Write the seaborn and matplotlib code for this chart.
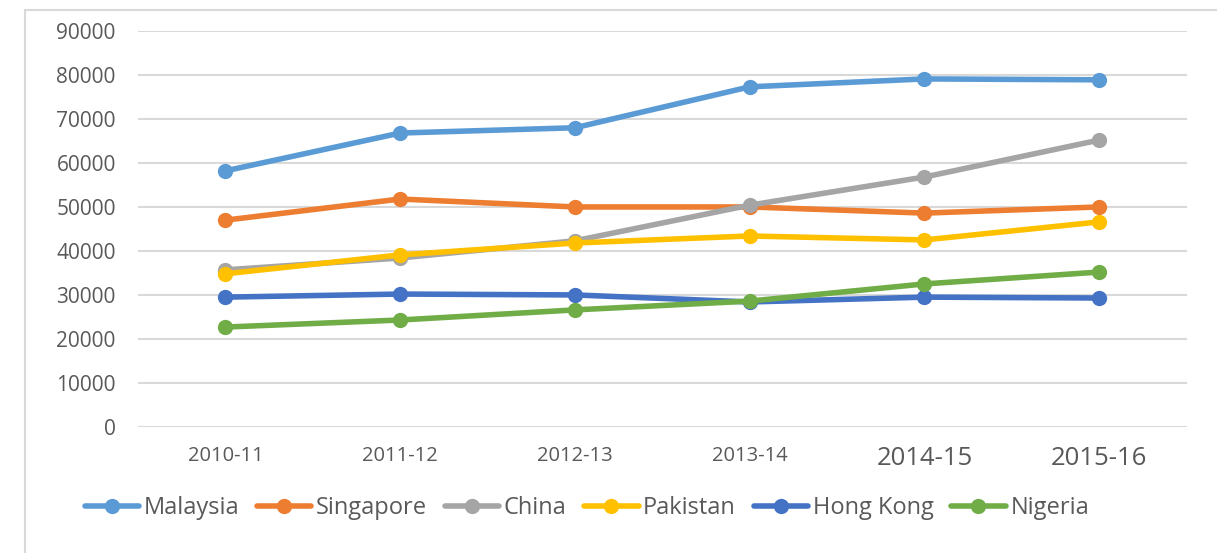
import matplotlib
matplotlib.use("Agg")

import matplotlib.pyplot as plt
import seaborn as sns
import pandas as pd

# Data
years = ["2010-11", "2011-12", "2012-13", "2013-14", "2014-15", "2015-16"]
malaysia = [58200, 66800, 68000, 77300, 79100, 78900]
singapore = [47000, 51800, 50000, 50000, 48600, 50000]
china = [35700, 38400, 42300, 50400, 56800, 65200]
pakistan = [34800, 39100, 41800, 43400, 42500, 46600]
hong_kong = [29500, 30200, 30000, 28400, 29500, 29300]
nigeria = [22700, 24300, 26600, 28600, 32500, 35200]

series = {
    "Malaysia": malaysia,
    "Singapore": singapore,
    "China": china,
    "Pakistan": pakistan,
    "Hong Kong": hong_kong,
    "Nigeria": nigeria,
}
colors = ["#5B9BD5", "#ED7D31", "#A5A5A5", "#FFC000", "#4472C4", "#70AD47"]

rows = []
for name, vals in series.items():
    for i, v in enumerate(vals):
        rows.append({"Year": years[i], "idx": i, "Country": name, "Value": v})
df = pd.DataFrame(rows)

sns.set_theme(style="white")
plt.rcParams["font.family"] = ["Open Sans", "DejaVu Sans"]

fig = plt.figure(figsize=(12.17, 5.53), dpi=100)
ax = fig.add_axes([0.1134, 0.228, 0.8616, 0.716])

# outer chart border
fig.patches.append(plt.Rectangle((25 / 1217, -0.1), 1.2, 1.1 - 10 / 553,
                                 transform=fig.transFigure, fill=False,
                                 edgecolor="#D9D9D9", linewidth=1.5))

sns.lineplot(data=df, x="idx", y="Value", hue="Country", palette=colors,
             marker="o", markersize=11, markeredgewidth=0, linewidth=4,
             ax=ax, legend=True)

ax.set_xlim(-0.5, 5.5)
ax.set_ylim(0, 90000)
ax.set_yticks(range(0, 90001, 10000))
ax.set_yticklabels([str(v) for v in range(0, 90001, 10000)])
ax.set_xticks(range(len(years)))
ax.set_xticklabels(years)
ax.grid(axis="y", color="#D9D9D9", linewidth=1.5)
ax.set_axisbelow(True)
for s in ax.spines.values():
    s.set_visible(False)
ax.tick_params(axis="y", labelsize=15, labelcolor="#595959", length=0, pad=16)
ax.tick_params(axis="x", labelcolor="#595959", length=0, pad=14)
for i, lab in enumerate(ax.get_xticklabels()):
    # the last two labels are drawn larger in the original
    lab.set_fontsize(18.5 if i >= 4 else 14.5)
ax.set_xlabel("")
ax.set_ylabel("")

handles, labels = ax.get_legend_handles_labels()
ax.legend(handles, labels, loc="center", bbox_to_anchor=(0.428, -0.205),
          ncol=6, frameon=False, fontsize=17, handlelength=2.3,
          handletextpad=0.2, columnspacing=0.75, labelcolor="#595959")

plt.savefig("out.png", dpi=100)
plt.close()
